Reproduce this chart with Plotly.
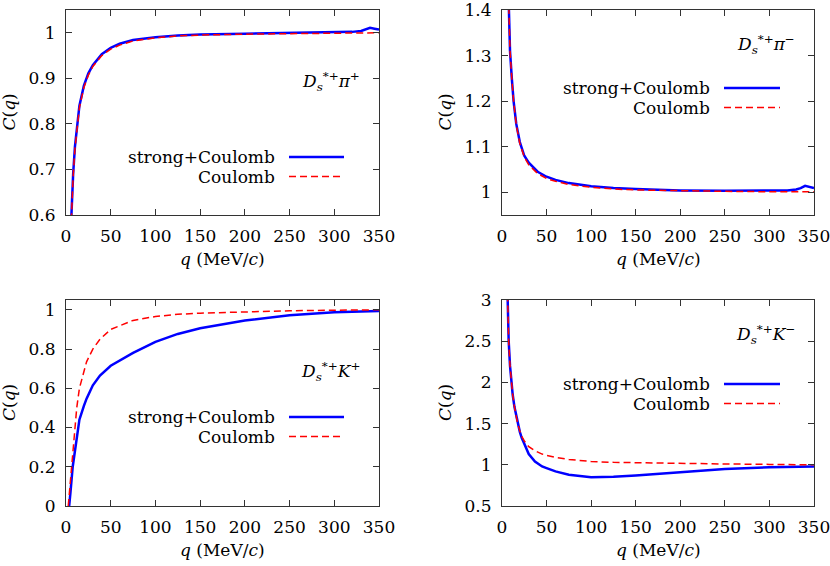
import plotly.graph_objects as go
from plotly.subplots import make_subplots

# D_s*+ pi+
q_pip = [5, 6, 8, 10, 12, 15, 20, 25, 30, 40, 50, 60, 75, 100, 125, 150, 200, 250, 300, 320, 330, 335, 340, 345, 350]
sc_pip = [0.55, 0.6, 0.69, 0.75, 0.79, 0.84, 0.884, 0.911, 0.929, 0.953, 0.967, 0.976, 0.984, 0.99, 0.994, 0.996, 0.998, 0.999, 1.001, 1.002, 1.004, 1.007, 1.011, 1.009, 1.007]
c_pip = [0.54, 0.59, 0.685, 0.745, 0.786, 0.836, 0.88, 0.907, 0.926, 0.95, 0.964, 0.973, 0.982, 0.989, 0.993, 0.995, 0.997, 0.998, 0.999, 0.9995, 1.0, 1.0, 1.0, 1.0, 1.0]

# D_s*+ pi-
q_pim = [5, 7.5, 9, 11, 13, 16, 20, 25, 30, 40, 50, 60, 75, 100, 125, 150, 200, 250, 300, 320, 330, 335, 340, 345, 350]
sc_pim = [1.6, 1.4, 1.31, 1.25, 1.2, 1.15, 1.11, 1.08, 1.065, 1.045, 1.034, 1.027, 1.02, 1.013, 1.009, 1.007, 1.004, 1.003, 1.003, 1.004, 1.006, 1.009, 1.014, 1.011, 1.009]
c_pim = [1.6, 1.4, 1.31, 1.25, 1.2, 1.148, 1.107, 1.077, 1.06, 1.041, 1.03, 1.024, 1.017, 1.011, 1.007, 1.005, 1.003, 1.002, 1.001, 1.001, 1.001, 1.001, 1.001, 1.001, 1.001]

# D_s*+ K+
q_kp = [2.5, 3.7, 5, 7.5, 10, 12, 15, 20, 23, 30, 38, 50, 75, 100, 125, 150, 200, 250, 300, 350]
sc_kp = [-0.05, 0.0, 0.07, 0.2, 0.29, 0.36, 0.44, 0.51, 0.547, 0.615, 0.665, 0.715, 0.78, 0.837, 0.877, 0.906, 0.945, 0.972, 0.987, 0.994]
c_kp = [0.0, 0.06, 0.12, 0.24, 0.4, 0.5, 0.6, 0.69, 0.735, 0.8, 0.85, 0.9, 0.946, 0.966, 0.977, 0.983, 0.99, 0.995, 0.998, 1.0]

# D_s*+ K-
q_km = [5, 6, 7.5, 9, 10.5, 12, 14, 17.5, 20, 22, 25, 30, 37, 45, 50, 60, 75, 100, 125, 150, 200, 250, 300, 350]
sc_km = [3.6, 3.0, 2.5, 2.2, 2.0, 1.85, 1.7, 1.5, 1.4, 1.33, 1.25, 1.13, 1.04, 0.98, 0.96, 0.92, 0.88, 0.85, 0.855, 0.87, 0.91, 0.95, 0.97, 0.98]
c_km = [3.6, 3.0, 2.5, 2.2, 2.0, 1.85, 1.7, 1.5, 1.41, 1.35, 1.29, 1.22, 1.17, 1.13, 1.115, 1.09, 1.065, 1.04, 1.03, 1.025, 1.015, 1.01, 1.005, 1.0]

panels = [
    (q_pip, sc_pip, c_pip, [0.6, 1.05], 0.1, "<i>D</i><sub><i>s</i></sub><sup>*+</sup><i>π</i><sup>+</sup>"),
    (q_pim, sc_pim, c_pim, [0.95, 1.4], 0.1, "<i>D</i><sub><i>s</i></sub><sup>*+</sup><i>π</i><sup>−</sup>"),
    (q_kp, sc_kp, c_kp, [0, 1.05], 0.2, "<i>D</i><sub><i>s</i></sub><sup>*+</sup><i>K</i><sup>+</sup>"),
    (q_km, sc_km, c_km, [0.5, 3], 0.5, "<i>D</i><sub><i>s</i></sub><sup>*+</sup><i>K</i><sup>−</sup>"),
]

W, H = 830, 566
FONT = "DejaVu Serif"
FS = 17
BLUE = "#0000ff"
RED = "#ff0000"
DASH = "7px,4px"

def px(x):
    return x / W

def py(y):
    return 1 - y / H

# pixel boxes of the four plot areas (left, right, top, bottom)
boxes = [(66, 379, 10, 215), (502, 814, 10, 215), (66, 379, 300, 506), (502, 814, 300, 506)]

fig = make_subplots(rows=2, cols=2)

for i, (q, sc, c, yr, dt, lab) in enumerate(panels):
    r, col = i // 2 + 1, i % 2 + 1
    fig.add_trace(go.Scatter(x=q, y=sc, mode="lines", line=dict(color=BLUE, width=2.5),
                             showlegend=False), row=r, col=col)
    fig.add_trace(go.Scatter(x=q, y=c, mode="lines", line=dict(color=RED, width=1.5, dash=DASH),
                             showlegend=False), row=r, col=col)
    l, rt, t, b = boxes[i]
    ax = dict(showline=True, linecolor="#333", linewidth=1, mirror="allticks", automargin=False,
              ticks="inside", ticklen=6, tickcolor="#333", showgrid=False, zeroline=False,
              ticklabeloverflow="allow", tickfont=dict(family=FONT, size=FS, color="black"))
    fig.update_xaxes(ax, range=[0, 350], dtick=50, tick0=0, domain=[px(l), px(rt)],
                     ticklabelstandoff=6, row=r, col=col)
    fig.update_yaxes(ax, range=yr, dtick=dt, tick0=0, domain=[py(b), py(t)],
                     ticklabelstandoff=6, row=r, col=col)

    # panel label
    fig.add_annotation(x=px(rt - 17), y=py(t + (71 if i % 2 == 0 else 34)), xref="paper", yref="paper",
                       text=lab, showarrow=False, xanchor="right", yanchor="middle",
                       font=dict(family=FONT, size=FS, color="black"))
    # axis titles
    fig.add_annotation(x=px((l + rt) / 2), y=py(b + 44), xref="paper", yref="paper",
                       text="<i>q</i> (MeV/<i>c</i>)", showarrow=False,
                       xanchor="center", yanchor="middle",
                       font=dict(family=FONT, size=FS, color="black"))
    fig.add_annotation(x=px(l - 57), y=py((t + b) / 2), xref="paper", yref="paper",
                       text="<i>C</i>(<i>q</i>)", showarrow=False, textangle=-90,
                       xanchor="center", yanchor="middle",
                       font=dict(family=FONT, size=FS, color="black"))

# key entries (text right aligned, line sample to the right)
keys = [(277, 289, 344, 157), (712, 724, 780, 88), (277, 289, 344, 417), (712, 724, 780, 384)]
for tx, x0, x1, y0 in keys:
    for j, (name, color, width, dash) in enumerate([("strong+Coulomb", BLUE, 2.5, "solid"),
                                                    ("Coulomb", RED, 1.5, DASH)]):
        yy = y0 + 19.5 * j
        fig.add_annotation(x=px(tx), y=py(yy), xref="paper", yref="paper", text=name,
                           showarrow=False, xanchor="right", yanchor="middle",
                           font=dict(family=FONT, size=FS, color="black"))
        fig.add_shape(type="line", xref="paper", yref="paper", x0=px(x0), x1=px(x1),
                      y0=py(yy), y1=py(yy), line=dict(color=color, width=width, dash=dash))

fig.update_layout(template="none", width=W, height=H, margin=dict(l=0, r=0, t=0, b=0),
                  plot_bgcolor="white", paper_bgcolor="white", showlegend=False)

fig.write_html("out.html", config={"displayModeBar": False},
               post_script="document.body.style.margin='0px';")
